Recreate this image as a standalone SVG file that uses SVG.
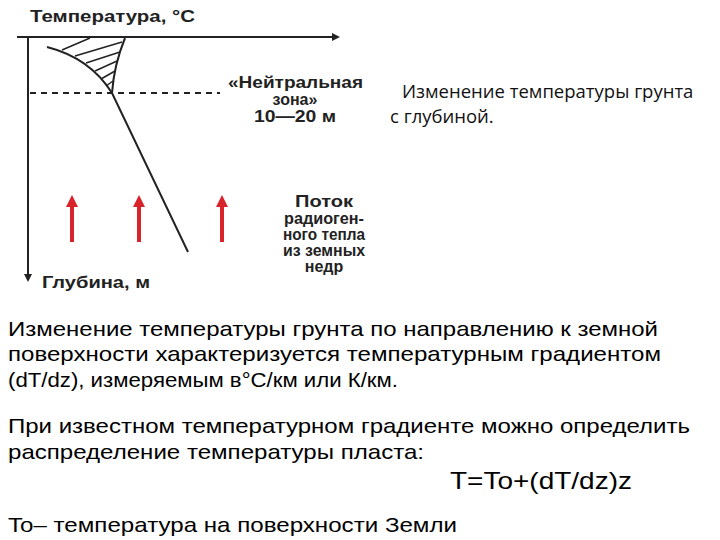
<svg xmlns="http://www.w3.org/2000/svg" width="720" height="540" viewBox="0 0 720 540">
<style>
.b{font-family:"Liberation Sans",Arial,sans-serif;font-weight:bold;font-size:16px;fill:#222}
.t{font-family:"Liberation Sans",Arial,sans-serif;font-size:21px;fill:#000}
.o{font-family:"Open Sans",sans-serif;font-size:18.5px;fill:#111}
.ax{stroke:#222;stroke-width:2;fill:none}
.h{stroke:#222;stroke-width:1.5}
.r{stroke:#d8232a;stroke-width:4}
</style>
<defs>
<marker id="ah" markerWidth="8" markerHeight="8" refX="6" refY="4" orient="auto" markerUnits="userSpaceOnUse"><path d="M0,0 L8,4 L0,8 Z" fill="#222"/></marker>
<marker id="rh" markerWidth="12" markerHeight="12" refX="2" refY="6" orient="auto" markerUnits="userSpaceOnUse"><path d="M0,0 L12,6 L0,12 Z" fill="#d8232a"/></marker>
</defs>
<rect width="720" height="540" fill="#fff"/>
<g id="axes">
<line class="ax" x1="17" y1="37" x2="338" y2="37" marker-end="url(#ah)"/>
<line class="ax" x1="28" y1="37" x2="28" y2="280" marker-end="url(#ah)"/>
<line x1="30" y1="93" x2="220" y2="93" stroke="#222" stroke-width="2" stroke-dasharray="6,5"/>
</g>
<g id="curve">
<path class="ax" d="M47,47 Q90,58 112,93 L188,252"/>
<path class="ax" d="M125,38 Q114,65 112,93"/>
<line class="h" x1="62" y1="50" x2="90" y2="38"/>
<line class="h" x1="75" y1="56" x2="122" y2="42"/>
<line class="h" x1="86" y1="63" x2="120" y2="52"/>
<line class="h" x1="95" y1="71" x2="117" y2="61"/>
<line class="h" x1="101" y1="79" x2="115" y2="71"/>
<line class="h" x1="106" y1="86" x2="113" y2="81"/>
</g>
<g id="arrows">
<line class="r" x1="72" y1="242" x2="72" y2="205" marker-end="url(#rh)"/>
<line class="r" x1="139" y1="242" x2="139" y2="205" marker-end="url(#rh)"/>
<line class="r" x1="222" y1="242" x2="222" y2="205" marker-end="url(#rh)"/>
</g>
<g id="labels">
<text class="b" x="30" y="22" textLength="165" lengthAdjust="spacingAndGlyphs">Температура, °С</text>
<text class="b" x="228" y="88" textLength="135" lengthAdjust="spacingAndGlyphs">«Нейтральная</text>
<text class="b" x="295" y="105" text-anchor="middle">зона»</text>
<text class="b" x="295" y="122" text-anchor="middle" textLength="82" lengthAdjust="spacingAndGlyphs">10—20 м</text>
<text class="b" x="324" y="207" text-anchor="middle" textLength="58" lengthAdjust="spacingAndGlyphs">Поток</text>
<text class="b" x="324" y="224" text-anchor="middle" textLength="80" lengthAdjust="spacingAndGlyphs">радиоген-</text>
<text class="b" x="324" y="240" text-anchor="middle" textLength="82" lengthAdjust="spacingAndGlyphs">ного тепла</text>
<text class="b" x="324" y="256" text-anchor="middle" textLength="82" lengthAdjust="spacingAndGlyphs">из земных</text>
<text class="b" x="324" y="272" text-anchor="middle">недр</text>
<text class="b" x="42" y="288" textLength="108" lengthAdjust="spacingAndGlyphs">Глубина, м</text>
</g>
<text class="o" x="402" y="98">Изменение температуры грунта</text>
<text class="o" x="390" y="123">с глубиной.</text>
<text class="t" x="8" y="336" textLength="650" lengthAdjust="spacingAndGlyphs">Изменение температуры грунта по направлению к земной</text>
<text class="t" x="8" y="361" textLength="653" lengthAdjust="spacingAndGlyphs">поверхности характеризуется температурным градиентом</text>
<text class="t" x="8" y="387" textLength="390" lengthAdjust="spacingAndGlyphs">(dT/dz), измеряемым в°С/км или К/км.</text>
<text class="t" x="8" y="433" textLength="682" lengthAdjust="spacingAndGlyphs">При известном температурном градиенте можно определить</text>
<text class="t" x="8" y="459" textLength="416" lengthAdjust="spacingAndGlyphs">распределение температуры пласта:</text>
<text class="t" x="450" y="489" style="font-size:24px" textLength="182" lengthAdjust="spacingAndGlyphs">T=To+(dT/dz)z</text>
<text class="t" x="8" y="532" textLength="449" lengthAdjust="spacingAndGlyphs">To– температура на поверхности Земли</text>
</svg>
